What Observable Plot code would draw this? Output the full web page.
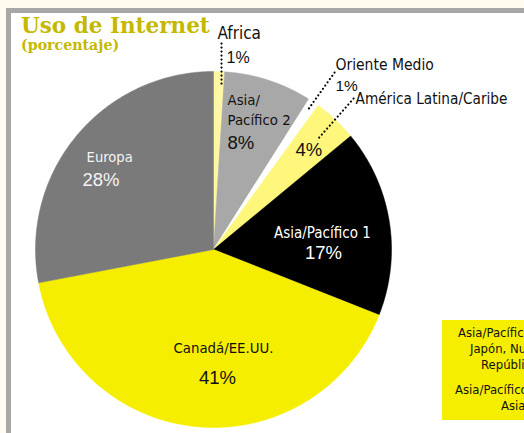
<!DOCTYPE html>
<html><head><meta charset="utf-8">
<script src="https://cdn.jsdelivr.net/npm/d3@7"></script>
<script src="https://cdn.jsdelivr.net/npm/@observablehq/plot@0.6"></script>
<style>
html,body{margin:0;padding:0;}
body{width:524px;height:433px;overflow:hidden;background:#fffbee;position:relative;}
#frame{position:absolute;left:6px;top:8px;width:700px;height:600px;background:#fff;border-left:5px solid #a7a7a7;border-top:5px solid #a7a7a7;}
#chart{position:absolute;left:0;top:0;}
.t{position:absolute;left:21px;font-family:"DejaVu Serif",serif;font-weight:bold;color:#c4b900;white-space:nowrap;}
#legend{position:absolute;left:442px;top:320px;width:120px;height:100px;background:#f6ee00;}
#legend div{position:absolute;white-space:nowrap;font-family:"Liberation Sans Narrow","DejaVu Sans Condensed",sans-serif;font-size:13px;line-height:13px;color:#111;}
</style></head>
<body>
<div id="frame"></div>
<div id="chart"></div>
<div class="t" style="top:15px;font-size:21.5px;line-height:21.5px;">Uso de Internet</div>
<div class="t" style="top:38px;font-size:14.2px;line-height:14.2px;">(porcentaje)</div>
<div id="legend"></div>
<script>
// ---- data ----
const categories = ["Africa", "Asia/Pacífico 2", "Oriente Medio", "América Latina/Caribe", "Asia/Pacífico 1", "Canadá/EE.UU.", "Europa"];
const values = [1, 8, 1, 4, 17, 41, 28];
const legendLines = ["Asia/Pacífico 1: Australia,", "Japón, Nueva Zelandia,", "República de Corea", "Asia/Pacífico 2: resto de", "Asia"];

// ---- styles / layout ----
const sliceColors = ["#fff6a6", "#a8a8a8", "#ffffff", "#fff67c", "#000000", "#f6ee00", "#7a7a7a"];
const NARROW = "Liberation Sans Narrow, DejaVu Sans Condensed, sans-serif";
const REGULAR = "Liberation Sans, Arial, sans-serif";

const pct = i => `${values[i]}%`;
const [ap2a, ap2b] = categories[1].split("/");

const nameLines = [
  {text: categories[0], u: 0.022, v: 1.185, size: 17, fill: "#111", anchor: "start"},
  {text: ap2a + "/", u: 0.079, v: 0.809, size: 14.8, fill: "#111", anchor: "start"},
  {text: ap2b, u: 0.079, v: 0.697, size: 14.8, fill: "#111", anchor: "start"},
  {text: categories[2], u: 0.685, v: 1.006, size: 15.5, fill: "#111", anchor: "start"},
  {text: categories[3], u: 0.798, v: 0.820, size: 15.2, fill: "#111", anchor: "start"},
  {text: categories[4], u: 0.612, v: 0.067, size: 15, fill: "#fff", anchor: "middle"},
  {text: categories[5], u: 0.056, v: -0.579, size: 14.8, fill: "#111", anchor: "middle"},
  {text: categories[6], u: -0.713, v: 0.494, size: 14.6, fill: "#f4f4f4", anchor: "start"}
];
const pctLines = [
  {text: pct(0), u: 0.073, v: 1.045, size: 16, fill: "#111", anchor: "start"},
  {text: pct(1), u: 0.079, v: 0.567, size: 18.5, fill: "#111", anchor: "start"},
  {text: pct(2), u: 0.685, v: 0.893, size: 15.5, fill: "#111", anchor: "start"},
  {text: pct(3), u: 0.461, v: 0.528, size: 18.5, fill: "#111", anchor: "start"},
  {text: pct(4), u: 0.618, v: -0.051, size: 18.5, fill: "#fff", anchor: "middle"},
  {text: pct(5), u: 0.022, v: -0.753, size: 18.5, fill: "#111", anchor: "middle"},
  {text: pct(6), u: -0.736, v: 0.354, size: 18.5, fill: "#f4f4f4", anchor: "start"}
];
const leaders = [
  {u1: 0.045, v1: 1.157, u2: 0.045, v2: 0.921},
  {u1: 0.680, v1: 0.994, u2: 0.528, v2: 0.781},
  {u1: 0.787, v1: 0.848, u2: 0.579, v2: 0.612}
];

// ---- pie geometry from values ----
const arcs = d3.pie().sort(null).value(d => d)(values);
const slices = arcs.map((a, i) => {
  const n = Math.max(4, Math.ceil((a.endAngle - a.startAngle) / (Math.PI / 360)));
  const pts = [{x: 0, y: 0}];
  for (let k = 0; k <= n; k++) {
    const t = a.startAngle + (a.endAngle - a.startAngle) * k / n;
    pts.push({x: Math.sin(t), y: Math.cos(t)});
  }
  pts.push({x: 0, y: 0});
  return {pts, color: sliceColors[i]};
});

const textMarks = (lines, font) => ["start", "middle"].map(anchor =>
  Plot.text(lines.filter(d => d.anchor === anchor), {
    x: "u", y: "v", text: "text", fill: "fill", fontSize: "size",
    textAnchor: anchor, lineAnchor: "bottom", fontFamily: font
  }));

const chart = Plot.plot({
  width: 524, height: 433,
  marginTop: 0, marginRight: 0, marginBottom: 0, marginLeft: 0,
  style: {background: "transparent", overflow: "visible"},
  x: {domain: [-1, 1], range: [35, 391], axis: null},
  y: {domain: [-1, 1], range: [427, 71], axis: null},
  color: {type: "identity"},
  marks: [
    ...slices.map(s => Plot.line(s.pts, {x: "x", y: "y", fill: s.color, stroke: s.color, strokeWidth: 0.5})),
    Plot.link(leaders, {x1: "u1", y1: "v1", x2: "u2", y2: "v2", stroke: "#000", strokeWidth: 2.2,
      strokeDasharray: "0 4", strokeLinecap: "round"}),
    ...textMarks(nameLines, NARROW),
    ...textMarks(pctLines, REGULAR)
  ]
});
document.getElementById("chart").appendChild(chart);

// legend box (cut off by the page edge, as in the original)
const legendOffsets = [16, 28, 39, 13, 59];
const legendTops = [6, 22, 38, 63, 79];
const lg = document.getElementById("legend");
legendLines.forEach((t, i) => {
  const d = document.createElement("div");
  d.textContent = t;
  d.style.left = legendOffsets[i] + "px";
  d.style.top = legendTops[i] + "px";
  lg.appendChild(d);
});
</script>
</body></html>
